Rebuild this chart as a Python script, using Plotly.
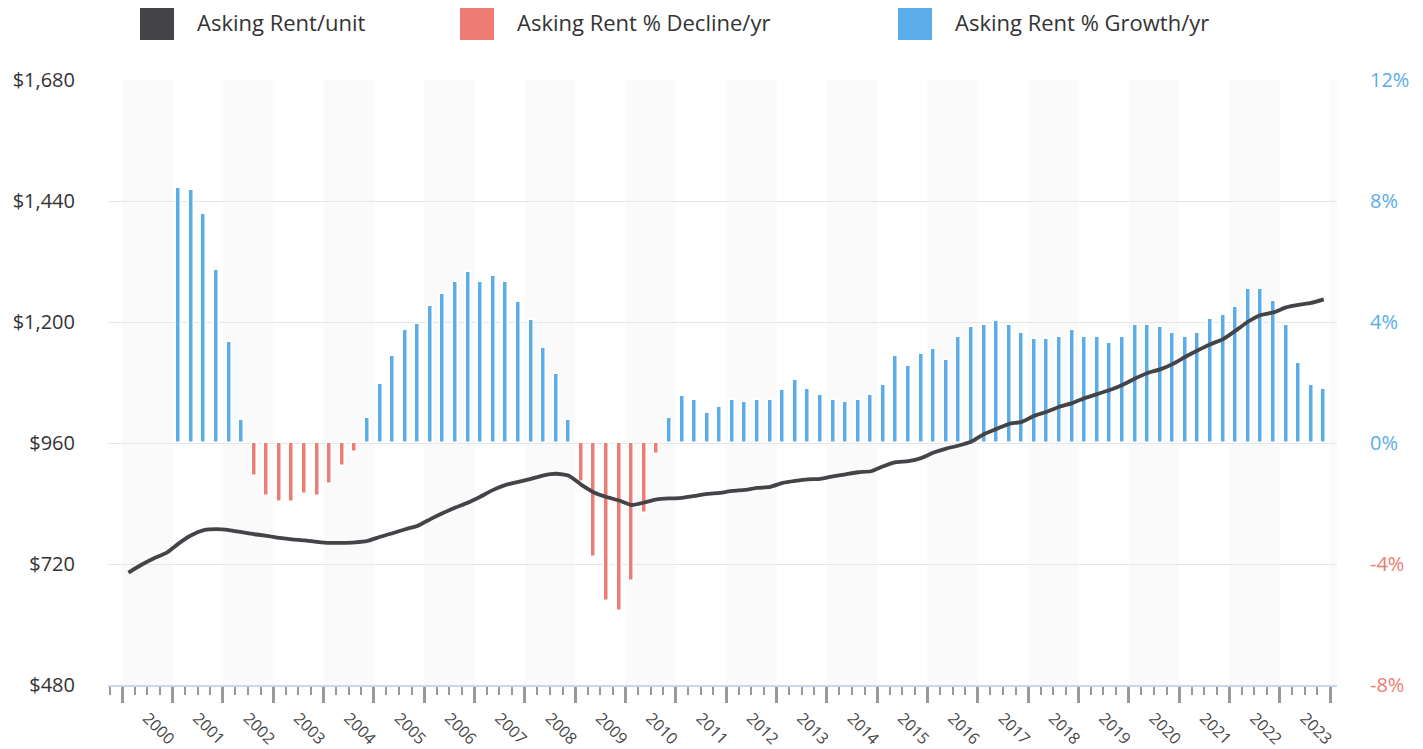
import pandas as pd
import plotly.graph_objects as go

# ---- data -------------------------------------------------------------
quarters = [str(p) for p in pd.period_range("2000Q1", "2023Q4", freq="Q")]

asking_rent = [
    703, 718, 731, 742,
    761, 777, 787, 789,
    787, 783, 779, 776,
    772, 769, 767, 764,
    762, 762, 763, 766,
    774, 781, 789, 796,
    809, 821, 832, 842,
    854, 867, 877, 883,
    889, 896, 899, 895,
    877, 862, 853, 846,
    837, 842, 848, 850,
    851, 855, 859, 861,
    865, 867, 871, 873,
    881, 885, 888, 889,
    894, 898, 902, 904,
    914, 922, 924, 930,
    941, 949, 955, 963,
    978, 988, 998, 1002,
    1014, 1022, 1032, 1039,
    1049, 1057, 1065, 1075,
    1088, 1099, 1106, 1117,
    1131, 1144, 1156, 1166,
    1183, 1201, 1214, 1219,
    1229, 1234, 1238, 1245,
]

# YoY % change, 2001Q1 .. 2023Q4
yoy_change = [
    8.42, 8.35, 7.56, 5.71,
    3.33, 0.75, -1.10, -1.76,
    -1.96, -1.96, -1.70, -1.76,
    -1.37, -0.77, -0.31, 0.82,
    1.94, 2.87, 3.73, 3.93,
    4.52, 4.91, 5.31, 5.64,
    5.31, 5.51, 5.31, 4.65,
    4.06, 3.13, 2.27, 0.75,
    -1.30, -3.78, -5.23, -5.56,
    -4.57, -2.32, -0.35, 0.82,
    1.54, 1.41, 1.00, 1.20,
    1.41, 1.34, 1.41, 1.41,
    1.74, 2.07, 1.80, 1.60,
    1.41, 1.34, 1.41, 1.60,
    1.93, 2.86, 2.53, 2.93,
    3.12, 2.73, 3.52, 3.85,
    3.91, 4.04, 3.91, 3.65,
    3.45, 3.45, 3.52, 3.72,
    3.52, 3.52, 3.32, 3.52,
    3.91, 3.91, 3.85, 3.65,
    3.52, 3.65, 4.11, 4.24,
    4.51, 5.10, 5.10, 4.71,
    3.91, 2.65, 1.93, 1.80,
]
yoy_quarters = quarters[4:]

rent_ticks = [480, 720, 960, 1200, 1440, 1680]
rent_ticktext = ["$480", "$720", "$960", "$1,200", "$1,440", "$1,680"]
growth_ticks = [0, 4, 8, 12]
growth_ticktext = ["0%", "4%", "8%", "12%"]
decline_ticks = [-8, -4]
decline_ticktext = ["-8%", "-4%"]

series_names = ["Asking Rent/unit", "Asking Rent % Decline/yr", "Asking Rent % Growth/yr"]

# ---- styling ----------------------------------------------------------
C_LINE = "#434348"
C_RED = "#ec7c74"
C_BLUE = "#5aade8"
FONT = "Open Sans"


def q_mid(q):
    p = pd.Period(q, freq="Q")
    return p.start_time + (p.end_time - p.start_time) / 2


x_rent = [q_mid(q) for q in quarters]
x_yoy = [q_mid(q) for q in yoy_quarters]
growth = [v if v >= 0 else None for v in yoy_change]
decline = [v if v < 0 else None for v in yoy_change]

bar_w = 36 * 86400000

fig = go.Figure()
fig.add_trace(go.Bar(x=x_yoy, y=growth, name=series_names[2], marker=dict(color=C_BLUE, line=dict(color="white", width=1.5)),
                     width=bar_w, yaxis="y", showlegend=False))
fig.add_trace(go.Bar(x=x_yoy, y=decline, name=series_names[1], marker=dict(color=C_RED, line=dict(color="white", width=1.5)),
                     width=bar_w, yaxis="y", showlegend=False))
# empty trace so that the red (negative) % axis is drawn
fig.add_trace(go.Scatter(x=[], y=[], yaxis="y3", showlegend=False, hoverinfo="skip"))
fig.add_trace(go.Scatter(x=x_rent, y=asking_rent, name=series_names[0], mode="lines",
                         line=dict(color=C_LINE, width=3.8, shape="spline", smoothing=0.5),
                         yaxis="y2", showlegend=False))

# page has an 8px body margin: figure is laid out in page pixels minus 8
OFF = 8
W, H = 1423 - OFF, 749 - OFF
L, T = 108 - OFF, 80 - OFF
R = W - (1337 - OFF)
B = H - (685 - OFF)
pw, ph = W - L - R, H - T - B

# alternating year bands
shapes = []
first_year = int(quarters[0][:4])
last_year = int(quarters[-1][:4]) + 1
for yr in range(first_year, last_year + 1, 2):
    shapes.append(dict(type="rect", xref="x", yref="paper", x0=f"{yr}-01-01", x1=f"{yr+1}-01-01",
                       y0=0, y1=1, fillcolor="#fafafa", line=dict(width=0), layer="below"))


def px_x(px):
    return (px - OFF - L) / pw


def px_y(py):
    return (H + OFF - B - py) / ph


legend_items = [(140, C_LINE, series_names[0]), (460, C_RED, series_names[1]), (898, C_BLUE, series_names[2])]
annotations = []
for x0, col, name in legend_items:
    shapes.append(dict(type="rect", xref="paper", yref="paper", x0=px_x(x0), x1=px_x(x0 + 34),
                       y0=px_y(40), y1=px_y(5), fillcolor=col, line=dict(width=0)))
    annotations.append(dict(xref="paper", yref="paper", x=px_x(x0 + 55), y=px_y(22), text=name,
                            showarrow=False, xanchor="left", yanchor="middle",
                            font=dict(family=FONT, size=22, color="#333333")))

fig.update_layout(
    width=W, height=H,
    margin=dict(l=L, r=R, t=T, b=B, autoexpand=False),
    paper_bgcolor="white", plot_bgcolor="white",
    barmode="overlay", bargap=0,
    font=dict(family=FONT, color="#333333"),
    shapes=shapes, annotations=annotations,
    showlegend=False,
    xaxis=dict(
        type="date", range=["1999-09-20", "2024-02-20"],
        showgrid=False, zeroline=False,
        showline=True, linecolor="#ccd6eb", linewidth=1.5,
        ticks="outside", ticklen=16, tickwidth=3, tickcolor="#999999",
        dtick="M12", tick0="2000-01-01", ticklabelmode="period", tickformat="%Y",
        tickangle=45, tickfont=dict(family=FONT, size=16, color="#444444"),
        minor=dict(ticks="outside", ticklen=8, tickwidth=1.5, tickcolor="#999999", dtick="M3",
                   tick0="2000-01-01", showgrid=False),
    ),
    yaxis=dict(
        range=[-8, 12], side="right", tickmode="array", tickvals=growth_ticks, ticktext=growth_ticktext,
        showgrid=False, zeroline=False, ticks="outside", ticklen=28, tickcolor="rgba(0,0,0,0)",
        tickfont=dict(family=FONT, size=20, color=C_BLUE),
    ),
    yaxis3=dict(
        range=[-8, 12], side="right", overlaying="y", anchor="x", tickmode="array",
        tickvals=decline_ticks, ticktext=decline_ticktext,
        showgrid=False, zeroline=False, ticks="outside", ticklen=28, tickcolor="rgba(0,0,0,0)",
        tickfont=dict(family=FONT, size=20, color=C_RED),
    ),
    yaxis2=dict(
        range=[480, 1680], side="left", overlaying="y", anchor="x", tickmode="array",
        tickvals=rent_ticks, ticktext=rent_ticktext,
        showgrid=True, gridcolor="#e6e6e6", gridwidth=1, zeroline=False,
        ticks="outside", ticklen=28, tickcolor="rgba(0,0,0,0)",
        tickfont=dict(family=FONT, size=20, color="#333333"),
    ),
)

fig.write_html("out.html")
